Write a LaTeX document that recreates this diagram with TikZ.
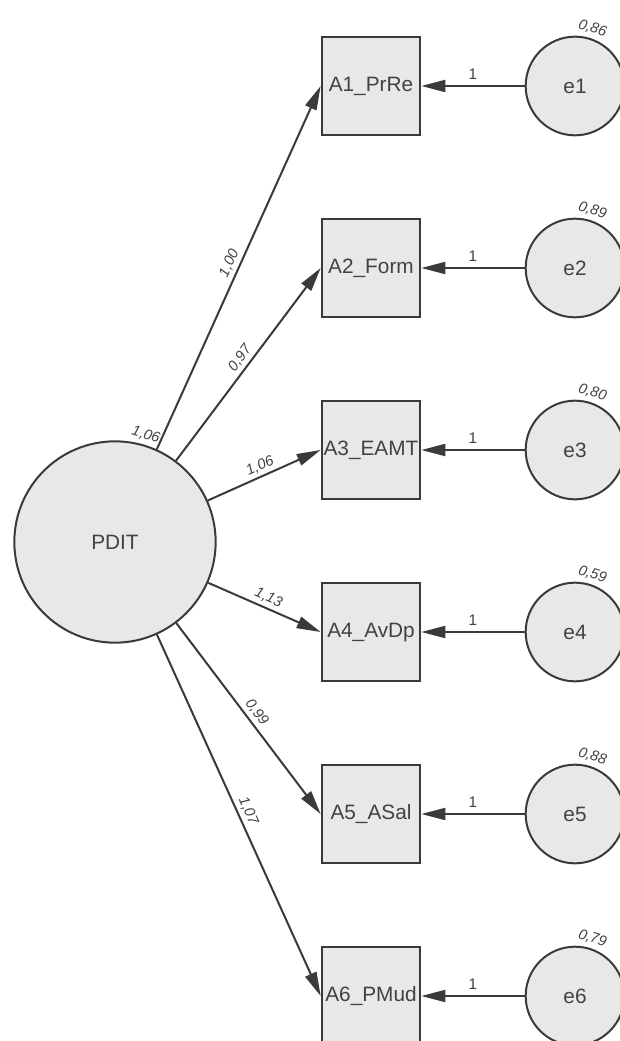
\documentclass[tikz,border=0pt]{standalone}
\usepackage{fontspec}
\setmainfont{Liberation Sans}
\usetikzlibrary{arrows.meta}
\definecolor{semline}{RGB}{58,58,58}
\definecolor{semfill}{RGB}{232,232,232}
\definecolor{semtext}{RGB}{66,66,66}
\tikzset{every picture/.style={line width=1.5pt}}
\tikzset{
  obsbox/.style={draw=semline, fill=semfill, minimum size=74pt, inner sep=0pt, text=semtext, font=\fontsize{15.6}{18}\selectfont},
  latcirc/.style={circle, draw=semline, fill=semfill, minimum size=151pt, inner sep=0pt, text=semtext, font=\fontsize{15.6}{18}\selectfont},
  errcirc/.style={circle, draw=semline, fill=semfill, minimum size=74pt, inner sep=0pt, text=semtext, font=\fontsize{15.6}{18}\selectfont},
  loading/.style={draw=semline, -{Triangle[length=18pt,width=9pt]}},
  pathlab/.style={midway, anchor=south, inner sep=2.5pt, text=semtext, font=\itshape\fontsize{11}{13}\selectfont},
  onelab/.style={midway, above, inner sep=4pt, text=semtext, font=\fontsize{11.5}{13}\selectfont},
  varlab/.style={anchor=south, rotate=-17, inner sep=2pt, text=semtext, font=\itshape\fontsize{11}{13}\selectfont}
}

\begin{document}
\begin{tikzpicture}[x=0.75pt,y=0.75pt,yscale=-1,xscale=1]
\useasboundingbox (0,0) rectangle (620,1041);

%Shape: Circle [id:pdit]
\node[latcirc] (pdit) at (115,542) {PDIT};

%Shape: Square [id:a1..a6]
\node[obsbox] (a1) at (371,86) {A1\_PrRe};
\node[obsbox] (a2) at (371,268) {A2\_Form};
\node[obsbox] (a3) at (371,450) {A3\_EAMT};
\node[obsbox] (a4) at (371,632) {A4\_AvDp};
\node[obsbox] (a5) at (371,814) {A5\_ASal};
\node[obsbox] (a6) at (371,996) {A6\_PMud};

%Shape: Circle [id:e1..e6]
\node[errcirc] (e1) at (575,86) {e1};
\node[errcirc] (e2) at (575,268) {e2};
\node[errcirc] (e3) at (575,450) {e3};
\node[errcirc] (e4) at (575,632) {e4};
\node[errcirc] (e5) at (575,814) {e5};
\node[errcirc] (e6) at (575,996) {e6};

%Straight Lines [id:loadings]
\draw[loading] (pdit) -- node[pathlab, rotate=65.7] {1,00} (a1.west);
\draw[loading] (pdit) -- node[pathlab, rotate=53.1] {0,97} (a2.west);
\draw[loading] (pdit) -- node[pathlab, rotate=24.1] {1,06} (a3.west);
\draw[loading] (pdit) -- node[pathlab, rotate=-23.6] {1,13} (a4.west);
\draw[loading] (pdit) -- node[pathlab, rotate=-52.9] {0,99} (a5.west);
\draw[loading] (pdit) -- node[pathlab, rotate=-65.6] {1,07} (a6.west);

%Straight Lines [id:errors]
\draw[loading] (e1) -- node[onelab] {1} (a1.east);
\draw[loading] (e2) -- node[onelab] {1} (a2.east);
\draw[loading] (e3) -- node[onelab] {1} (a3.east);
\draw[loading] (e4) -- node[onelab] {1} (a4.east);
\draw[loading] (e5) -- node[onelab] {1} (a5.east);
\draw[loading] (e6) -- node[onelab] {1} (a6.east);

% Text Node
\node[varlab] (vpdit) at (pdit.74) {1,06};
% Text Node
\node[varlab] (v1) at (e1.73) {0,86};
% Text Node
\node[varlab] (v2) at (e2.73) {0,89};
% Text Node
\node[varlab] (v3) at (e3.73) {0,80};
% Text Node
\node[varlab] (v4) at (e4.73) {0,59};
% Text Node
\node[varlab] (v5) at (e5.73) {0,88};
% Text Node
\node[varlab] (v6) at (e6.73) {0,79};

\end{tikzpicture}
\end{document}
